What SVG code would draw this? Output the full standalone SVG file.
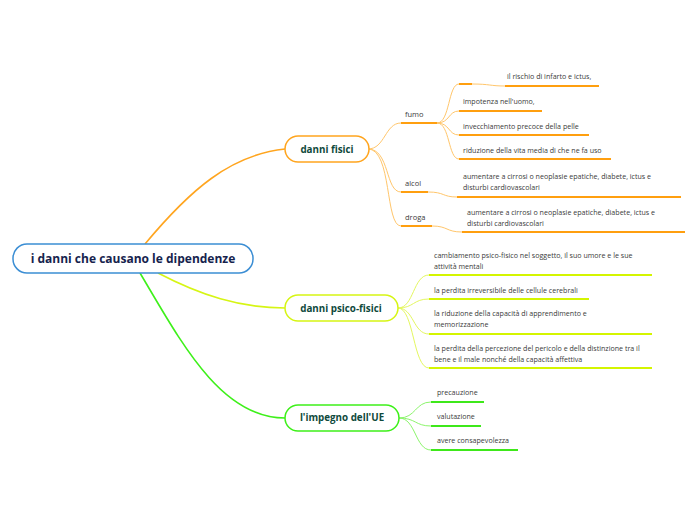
<svg xmlns="http://www.w3.org/2000/svg" width="696" height="520" viewBox="0 0 696 520">
<style>
.t{font-family:"Open Sans","Noto Sans","DejaVu Sans",sans-serif;font-size:7.1px;fill:#3a3a3a;}
.s{font-family:"Open Sans","Noto Sans","DejaVu Sans",sans-serif;font-size:7.5px;fill:#3a3a3a;}
.m{font-family:"Open Sans","Noto Sans","DejaVu Sans",sans-serif;font-size:9.8px;font-weight:bold;fill:#0f4a3c;text-anchor:middle;}
.r{font-family:"Open Sans","Noto Sans","DejaVu Sans",sans-serif;font-size:12px;font-weight:bold;fill:#16234d;text-anchor:middle;}
.c{fill:none;stroke-width:1;}
.o{stroke:#ffc66b;}
.y{stroke:#e4f760;}
.g{stroke:#8cf56c;}
.uo{stroke:#ff9f0f;stroke-width:2;fill:none;}
.uy{stroke:#d4f500;stroke-width:2;fill:none;}
.ug{stroke:#3ee81a;stroke-width:2;fill:none;}
</style>
<rect width="696" height="520" fill="#fff"/>
<g id="connectors">
  <path d="M145,244 C190,190 230,155 285,149" fill="none" stroke="#ffa51f" stroke-width="1.6"/>
  <path d="M158,273 C200,295 240,308 285,308" fill="none" stroke="#d6f514" stroke-width="1.6"/>
  <path d="M140,273 C180,340 220,418 285,418" fill="none" stroke="#3ef01a" stroke-width="1.6"/>
  <path class="c o" d="M368,149 C385,149 385,123 401,123"/>
  <path class="c o" d="M368,149 C390,149 385,192 401,192"/>
  <path class="c o" d="M368,149 C392,149 385,226 401,226"/>
  <path class="c o" d="M437,123 C450,123 448,84 459,84"/>
  <path class="c o" d="M437,123 C450,123 448,111 459,111"/>
  <path class="c o" d="M437,123 C450,123 448,135 459,135"/>
  <path class="c o" d="M437,123 C450,123 448,159 459,159"/>
  <path class="c o" d="M428,192 C445,192 442,197 457,197"/>
  <path class="c o" d="M432,226 C448,226 446,232 462,232"/>
  <path class="c o" d="M472,84 C490,84 490,86 505,86"/>
  <path class="c y" d="M398,308 C414,308 413,275 429,275"/>
  <path class="c y" d="M398,308 C414,308 413,299 429,299"/>
  <path class="c y" d="M398,308 C414,308 413,334 429,334"/>
  <path class="c y" d="M398,308 C414,308 413,368 429,368"/>
  <path class="c g" d="M399,418 C416,418 415,402 431,402"/>
  <path class="c g" d="M399,418 C416,418 415,426 431,426"/>
  <path class="c g" d="M399,418 C416,418 415,450 431,450"/>
</g>
<g id="root">
  <rect x="13" y="244" width="240" height="29" rx="14" fill="#fff" stroke="#3b8ed4" stroke-width="1.5"/>
  <text class="r" x="133" y="263">i danni che causano le dipendenze</text>
</g>
<g id="danni-fisici">
  <rect x="285" y="136" width="84" height="26" rx="13" fill="#fff" stroke="#ffa51f" stroke-width="1.5"/>
  <text class="m" x="327" y="153">danni fisici</text>
</g>
<g id="danni-psico-fisici">
  <rect x="285" y="295" width="113" height="26" rx="13" fill="#fff" stroke="#d6f514" stroke-width="1.5"/>
  <text class="m" x="341" y="312">danni psico-fisici</text>
</g>
<g id="impegno-ue">
  <rect x="285" y="405" width="114" height="26" rx="13" fill="#fff" stroke="#3ef01a" stroke-width="1.5"/>
  <text class="m" x="342" y="421">l'impegno dell'UE</text>
</g>
<g id="fumo">
  <path class="uo" d="M401,123 H437"/>
  <text class="s" x="405" y="117">fumo</text>
</g>
<g id="alcol">
  <path class="uo" d="M401,192 H428"/>
  <text class="s" x="405" y="186">alcol</text>
</g>
<g id="droga">
  <path class="uo" d="M401,226 H432"/>
  <text class="s" x="405" y="220">droga</text>
</g>
<g id="fumo-1">
  <path class="uo" d="M459,84 H472"/>
  <path class="uo" d="M505,86 H599"/>
  <text class="t" x="507" y="79">il rischio di infarto e ictus,</text>
</g>
<g id="fumo-2">
  <path class="uo" d="M459,111 H542"/>
  <text class="t" x="463" y="104">impotenza nell'uomo,</text>
</g>
<g id="fumo-3">
  <path class="uo" d="M459,135 H589"/>
  <text class="t" x="463" y="129">invecchiamento precoce della pelle</text>
</g>
<g id="fumo-4">
  <path class="uo" d="M459,159 H611"/>
  <text class="t" x="463" y="153">riduzione della vita media di che ne fa uso</text>
</g>
<g id="alcol-1">
  <path class="uo" d="M457,197 H681"/>
  <text class="t" x="463" y="179">aumentare a cirrosi o neoplasie epatiche, diabete, ictus e</text>
  <text class="t" x="463" y="190">disturbi cardiovascolari</text>
</g>
<g id="droga-1">
  <path class="uo" d="M462,232 H685"/>
  <text class="t" x="467" y="215">aumentare a cirrosi o neoplasie epatiche, diabete, ictus e</text>
  <text class="t" x="467" y="226">disturbi cardiovascolari</text>
</g>
<g id="psico-1">
  <path class="uy" d="M429,275 H652"/>
  <text class="t" x="434" y="258">cambiamento psico-fisico nel soggetto, il suo umore e le sue</text>
  <text class="t" x="434" y="269">attività mentali</text>
</g>
<g id="psico-2">
  <path class="uy" d="M429,299 H589"/>
  <text class="t" x="434" y="293">la perdita irreversibile delle cellule cerebrali</text>
</g>
<g id="psico-3">
  <path class="uy" d="M429,334 H652"/>
  <text class="t" x="434" y="316">la riduzione della capacità di apprendimento e</text>
  <text class="t" x="434" y="327">memorizzazione</text>
</g>
<g id="psico-4">
  <path class="uy" d="M429,368 H652"/>
  <text class="t" x="434" y="351">la perdita della percezione del pericolo e della distinzione tra il</text>
  <text class="t" x="434" y="362">bene e il male nonché della capacità affettiva</text>
</g>
<g id="ue-1">
  <path class="ug" d="M431,402 H484"/>
  <text class="t" x="437" y="395">precauzione</text>
</g>
<g id="ue-2">
  <path class="ug" d="M431,426 H481"/>
  <text class="t" x="437" y="419">valutazione</text>
</g>
<g id="ue-3">
  <path class="ug" d="M431,450 H518"/>
  <text class="t" x="437" y="443">avere consapevolezza</text>
</g>
</svg>
